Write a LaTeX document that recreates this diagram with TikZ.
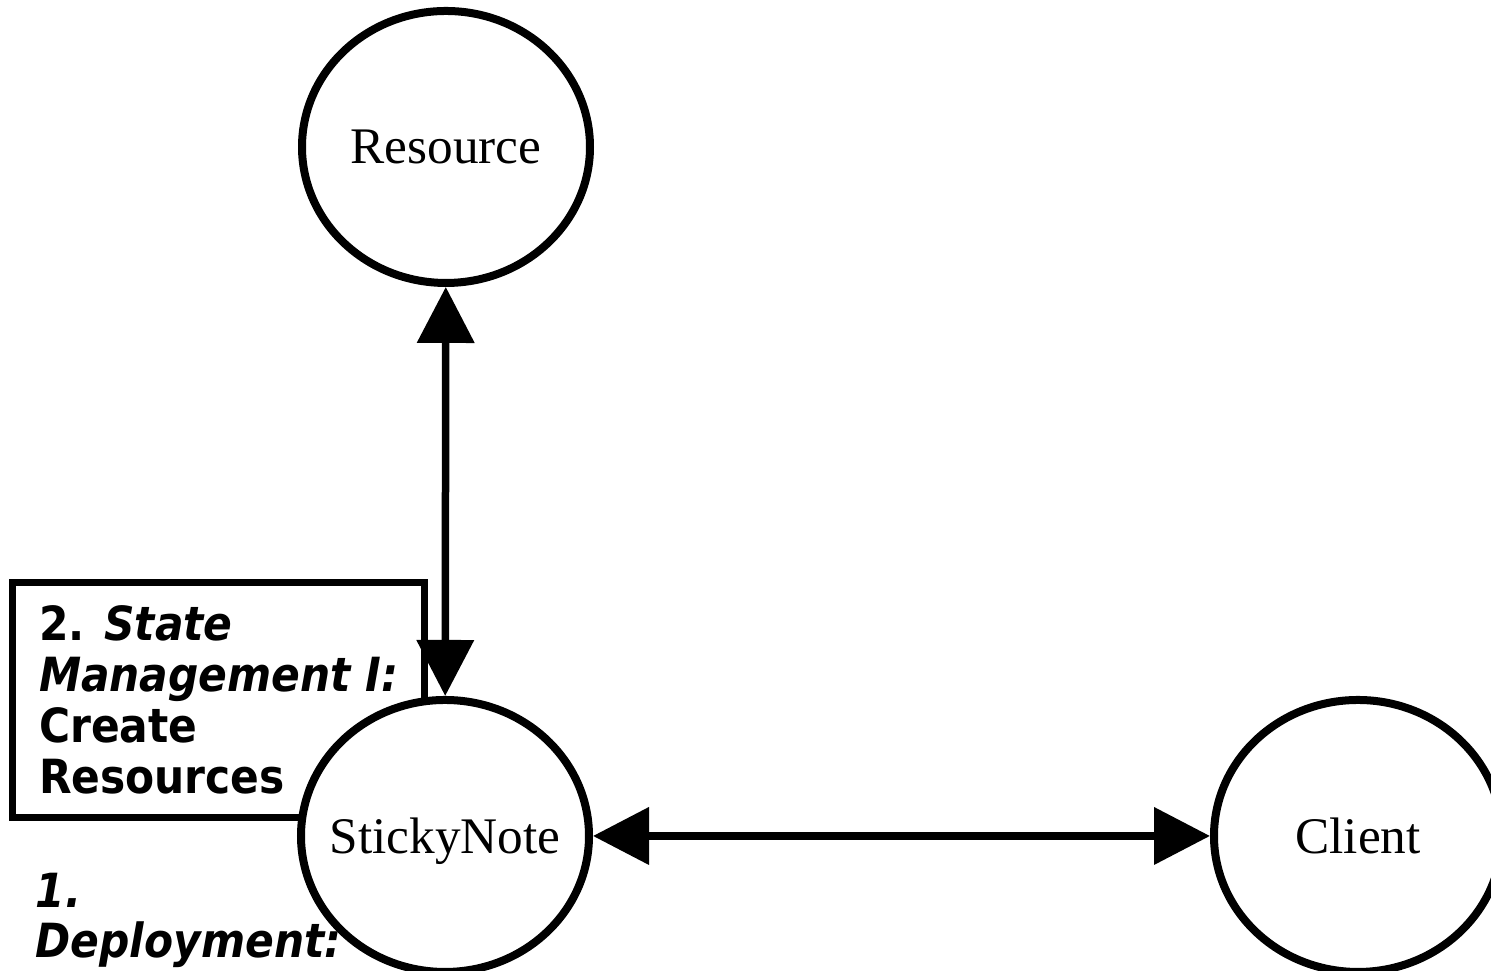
\documentclass[tikz,border=0pt]{standalone}
\usepackage{fontspec}
\setmainfont{Liberation Serif}
\newfontfamily\notefont[FakeStretch=0.9]{DejaVu Sans}
\usetikzlibrary{shapes.geometric,arrows.meta}
\begin{document}
\begin{tikzpicture}[
    blob/.style={ellipse, draw, fill=white, line width=0.08cm, inner sep=0pt,
      minimum width=2.88cm, minimum height=2.72cm},
    every label/.style={font=\fontsize{14.6}{17}\selectfont, inner sep=0pt,
      text depth=0pt},
    notebox/.style={draw, line width=0.075cm, align=left, inner xsep=0.24cm,
      minimum width=4.12cm, minimum height=2.35cm,
      font=\notefont\bfseries\fontsize{13.4}{14.5}\selectfont},
    link/.style={line width=0.075cm,
      {Triangle[length=5.6mm,width=5.6mm]}-{Triangle[length=5.6mm,width=5.6mm]}}]
  \useasboundingbox (0,0) rectangle (14.91,9.71);
  % note box sits behind the circles
  \node[notebox, anchor=north west] (mgmt) at (0.09,3.92)
    {2. \textit{State}\\ \textit{Management I:}\\ Create\\ Resources};
  % loop to draw the three circles
  \foreach \nm/\x/\y/\lab in {resource/4.46/8.24/Resource,
      sticky/4.45/1.35/StickyNote, client/13.58/1.35/Client} {
    \node[blob, label=center:\lab] (\nm) at (\x,\y) {};
  }
  \node[anchor=base west, align=left, inner sep=0pt,
    font=\notefont\bfseries\itshape\fontsize{13.4}{14.5}\selectfont]
    (deploy) at (0.35,0.13) {1.\\ Deployment:};
  \draw[link] (resource) -- (sticky);
  \draw[link] (sticky) -- (client);
\end{tikzpicture}
\end{document}
